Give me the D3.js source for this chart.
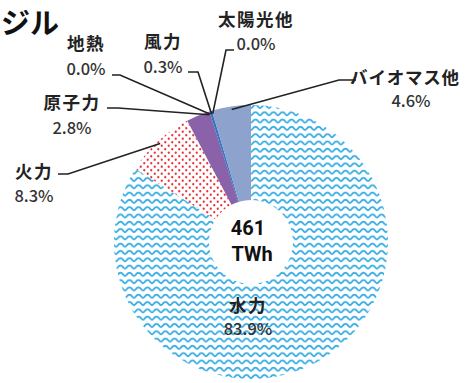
<!DOCTYPE html>
<html><head><meta charset="utf-8">
<script src="https://cdn.jsdelivr.net/npm/d3@7/dist/d3.min.js"></script>
<style>
html,body{margin:0;padding:0;background:#fff;}
svg{display:block;font-family:"Noto Sans CJK JP","Noto Sans",sans-serif;}
</style></head>
<body>
<svg id="chart" width="465" height="383"></svg>
<script>
const categories = ["水力","火力","原子力","地熱","風力","太陽光他","バイオマス他"];
const values = [83.9, 8.3, 2.8, 0.0, 0.3, 0.0, 4.6];
const valueLabels = ["83.9%","8.3%","2.8%","0.0%","0.3%","0.0%","4.6%"];
const totalLabel = ["461","TWh"];
const titleText = "ジル";

const svg = d3.select("#chart");
const cx = 251, cy = 242, rOuter = 137, rInner = 42;

const defs = svg.append("defs");
const wave = defs.append("pattern").attr("id","wave").attr("patternUnits","userSpaceOnUse")
  .attr("width",9).attr("height",7.3);
wave.append("path")
  .attr("d","M0,4.8 C1.5,4.8 2,1.6 4.5,1.6 C7,1.6 7.5,4.8 9,4.8")
  .attr("fill","none").attr("stroke","#3aaee4").attr("stroke-width",1.8);
const dots = defs.append("pattern").attr("id","dots").attr("patternUnits","userSpaceOnUse")
  .attr("width",7).attr("height",7);
dots.append("circle").attr("cx",1.75).attr("cy",1.75).attr("r",1.15).attr("fill","#e8353b");
dots.append("circle").attr("cx",5.25).attr("cy",5.25).attr("r",1.15).attr("fill","#e8353b");

const fills = ["url(#wave)","url(#dots)","#8a62a9","#e0e0e0","#2f76c0","#e0e0e0","#8da2cc"];

const pie = d3.pie().sort(null).value(d => d)(values);
const arc = d3.arc().innerRadius(rInner).outerRadius(rOuter);

const g = svg.append("g").attr("transform",`translate(${cx},${cy})`);
g.selectAll("path.slice").data(pie).join("path").attr("class","slice")
  .attr("d", arc).attr("fill",(d,i)=>fills[i]).attr("stroke","none");

// leader lines
const layout = {
  1: {t:0.5, elbow:[68,174], end:[58,174]},
  2: {t:0.95, elbow:[118,108], end:[107,108]},
  3: {t:0.5, elbow:[120,75], end:[112,75]},
  4: {t:0.5, elbow:[198,72], end:[188,72]},
  5: {t:0.5, elbow:[226,50], end:[234,50]},
  6: {t:0.5, elbow:[339,80], end:[356,80]}
};
const lineG = svg.append("g");
Object.keys(layout).forEach(k => {
  const i = +k, L = layout[k], d = pie[i];
  const a = d.startAngle + (d.endAngle - d.startAngle) * L.t;
  const r = rOuter - 3;
  const px = cx + r * Math.sin(a), py = cy - r * Math.cos(a);
  lineG.append("polyline")
    .attr("points", `${L.end[0]},${L.end[1]} ${L.elbow[0]},${L.elbow[1]} ${px},${py}`)
    .attr("fill","none").attr("stroke","#222").attr("stroke-width",1.6);
});

// labels: [x, nameY, valueY, letterSpacing]
const labelPos = {
  0: [248,304,328,1.5],
  1: [34,170,195,1.5],
  2: [72,101,127,1.5],
  3: [86,42,68,1.5],
  4: [163,40,66,1.5],
  5: [256,18,43,1.5],
  6: [405,76,100,0.8]
};
Object.keys(labelPos).forEach(k => {
  const i = +k, p = labelPos[k];
  svg.append("text").attr("x",p[0]).attr("y",p[1]).attr("text-anchor","middle")
    .attr("dominant-baseline","central").attr("font-size",17.5).attr("font-weight",700)
    .attr("letter-spacing",p[3])
    .attr("fill","#222").text(categories[i]);
  svg.append("text").attr("x",i === 6 ? 411 : p[0]).attr("y",p[2]).attr("text-anchor","middle")
    .attr("dominant-baseline","central").attr("font-size",16.5).attr("font-weight",500)
    .attr("fill","#333").text(valueLabels[i]);
});

// center total
svg.append("text").attr("x",248).attr("y",228).attr("text-anchor","middle")
  .attr("dominant-baseline","central").attr("font-size",20).attr("font-weight",700)
  .attr("font-family","Roboto, 'Noto Sans', sans-serif").attr("fill","#111").text(totalLabel[0]);
svg.append("text").attr("x",252).attr("y",254).attr("text-anchor","middle")
  .attr("dominant-baseline","central").attr("font-size",20).attr("font-weight",700)
  .attr("font-family","Roboto, 'Noto Sans', sans-serif").attr("fill","#111").text(totalLabel[1]);

// title (tail of the country name, as shown in the reference)
svg.append("text").attr("x",1).attr("y",34).attr("text-anchor","start")
  .attr("font-size",29).attr("font-weight",700).attr("fill","#111").text(titleText);
</script>
</body></html>
